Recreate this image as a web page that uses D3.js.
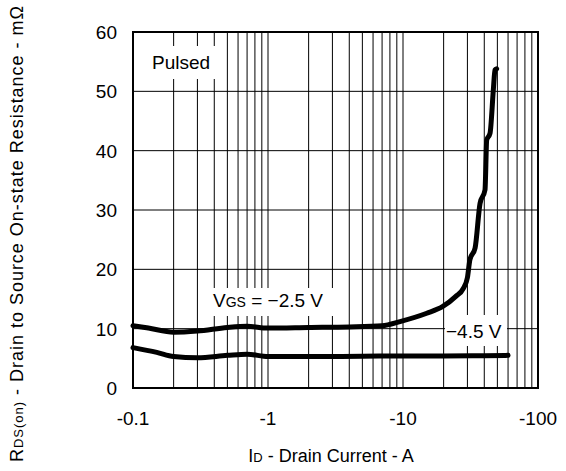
<!DOCTYPE html>
<html>
<head>
<meta charset="utf-8">
<script src="https://cdn.jsdelivr.net/npm/d3@7"></script>
<style>
  body { margin: 0; background: #fff; }
  text { font-family: "Liberation Sans", Arial, sans-serif; fill: #000; }
</style>
</head>
<body>
<div id="chart"></div>
<script>
// drain current (A, magnitude) and on-resistance (mOhm)
const id_vgs25 = [0.1, 0.13, 0.2, 0.3, 0.5, 0.7, 1.0, 2, 4, 7, 9.5, 15, 19.6, 24.5, 28, 30, 31.3, 34.2, 37.2, 40.5, 41.7, 44.1, 46.7, 48, 49.4];
const r_vgs25  = [10.5, 10.1, 9.4, 9.6, 10.2, 10.4, 10.1, 10.2, 10.3, 10.5, 11.2, 12.6, 13.7, 15.4, 16.8, 18.6, 21.6, 23.6, 31.1, 33.4, 41.8, 42.9, 50.3, 53.6, 53.8];

const id_vgs45 = [0.1, 0.15, 0.2, 0.3, 0.5, 0.7, 1.0, 2, 5, 10, 20, 40, 60];
const r_vgs45  = [6.8, 6.0, 5.3, 5.1, 5.5, 5.7, 5.3, 5.3, 5.35, 5.4, 5.4, 5.45, 5.5];

const xTickVals = [0.1, 1, 10, 100];
const yTickVals = [0, 10, 20, 30, 40, 50, 60];

const W = 566, H = 471;
const margin = {top: 32, right: 28, bottom: 83, left: 133};

const svg = d3.select("#chart").append("svg")
    .attr("width", W)
    .attr("height", H);

const x = d3.scaleLog().domain([0.1, 100]).range([margin.left, W - margin.right]);
const y = d3.scaleLinear().domain([0, 60]).range([H - margin.bottom, margin.top]);

// grid
let minor = [];
[0.1, 1, 10].forEach(d => { for (let k = 1; k <= 9; k++) minor.push(d * k); });
minor.push(100);

svg.append("g")
    .selectAll("line")
    .data(minor)
    .join("line")
    .attr("x1", d => x(d)).attr("x2", d => x(d))
    .attr("y1", y(0)).attr("y2", y(60))
    .attr("stroke", "#000")
    .attr("stroke-width", 1);

svg.append("g")
    .selectAll("line")
    .data(yTickVals)
    .join("line")
    .attr("x1", x(0.1)).attr("x2", x(100))
    .attr("y1", d => y(d)).attr("y2", d => y(d))
    .attr("stroke", "#000")
    .attr("stroke-width", 1);

// label boxes (white backing over grid)
function box(x0, y0, w, h) {
    svg.append("rect")
        .attr("x", x0).attr("y", y0)
        .attr("width", w).attr("height", h)
        .attr("fill", "#fff");
}
box(146, 46, 74, 33);
box(210, 288, 126, 28);
box(445, 315, 62, 31);

// curves
const line = d3.line()
    .x(d => x(d[0]))
    .y(d => y(d[1]))
    .curve(d3.curveMonotoneX);

svg.append("path")
    .datum(d3.zip(id_vgs25, r_vgs25))
    .attr("d", line)
    .attr("fill", "none")
    .attr("stroke", "#000")
    .attr("stroke-width", 5)
    .attr("stroke-linecap", "round")
    .attr("stroke-linejoin", "round");

svg.append("path")
    .datum(d3.zip(id_vgs45, r_vgs45))
    .attr("d", line)
    .attr("fill", "none")
    .attr("stroke", "#000")
    .attr("stroke-width", 5)
    .attr("stroke-linecap", "round")
    .attr("stroke-linejoin", "round");

// frame
svg.append("rect")
    .attr("x", x(0.1)).attr("y", y(60))
    .attr("width", x(100) - x(0.1))
    .attr("height", y(0) - y(60))
    .attr("fill", "none")
    .attr("stroke", "#000")
    .attr("stroke-width", 2);

// axes labels
svg.append("g")
    .selectAll("text")
    .data(yTickVals)
    .join("text")
    .attr("x", margin.left - 16)
    .attr("y", d => y(d) + 7)
    .attr("text-anchor", "end")
    .style("font-size", "19px")
    .text(d => d);

svg.append("g")
    .selectAll("text")
    .data(xTickVals)
    .join("text")
    .attr("x", d => x(d))
    .attr("y", 425)
    .attr("text-anchor", "middle")
    .style("font-size", "19px")
    .text(d => "-" + d);

// in-plot labels
svg.append("text")
    .attr("x", 152).attr("y", 69)
    .style("font-size", "19px")
    .text("Pulsed");

const t1 = svg.append("text")
    .attr("x", 213).attr("y", 307)
    .style("font-size", "19px");
t1.append("tspan").text("V");
t1.append("tspan").style("font-size", "14px").text("GS");
t1.append("tspan").text(" = \u22122.5 V");

svg.append("text")
    .attr("x", 446).attr("y", 338)
    .style("font-size", "19px")
    .text("\u22124.5 V");

// axis titles
const xt = svg.append("text")
    .attr("x", 331).attr("y", 462)
    .attr("text-anchor", "middle")
    .style("font-size", "18px");
xt.append("tspan").text("I");
xt.append("tspan").style("font-size", "13px").text("D");
xt.append("tspan").text(" - Drain Current - A");

const yt = svg.append("text")
    .attr("transform", "translate(23,234) rotate(-90)")
    .attr("text-anchor", "middle")
    .attr("textLength", 456)
    .attr("lengthAdjust", "spacing")
    .style("font-size", "18px");
yt.append("tspan").text("R");
yt.append("tspan").style("font-size", "13px").text("DS(on)");
yt.append("tspan").text(" - Drain to Source On-state Resistance - m\u03A9");
</script>
</body>
</html>
